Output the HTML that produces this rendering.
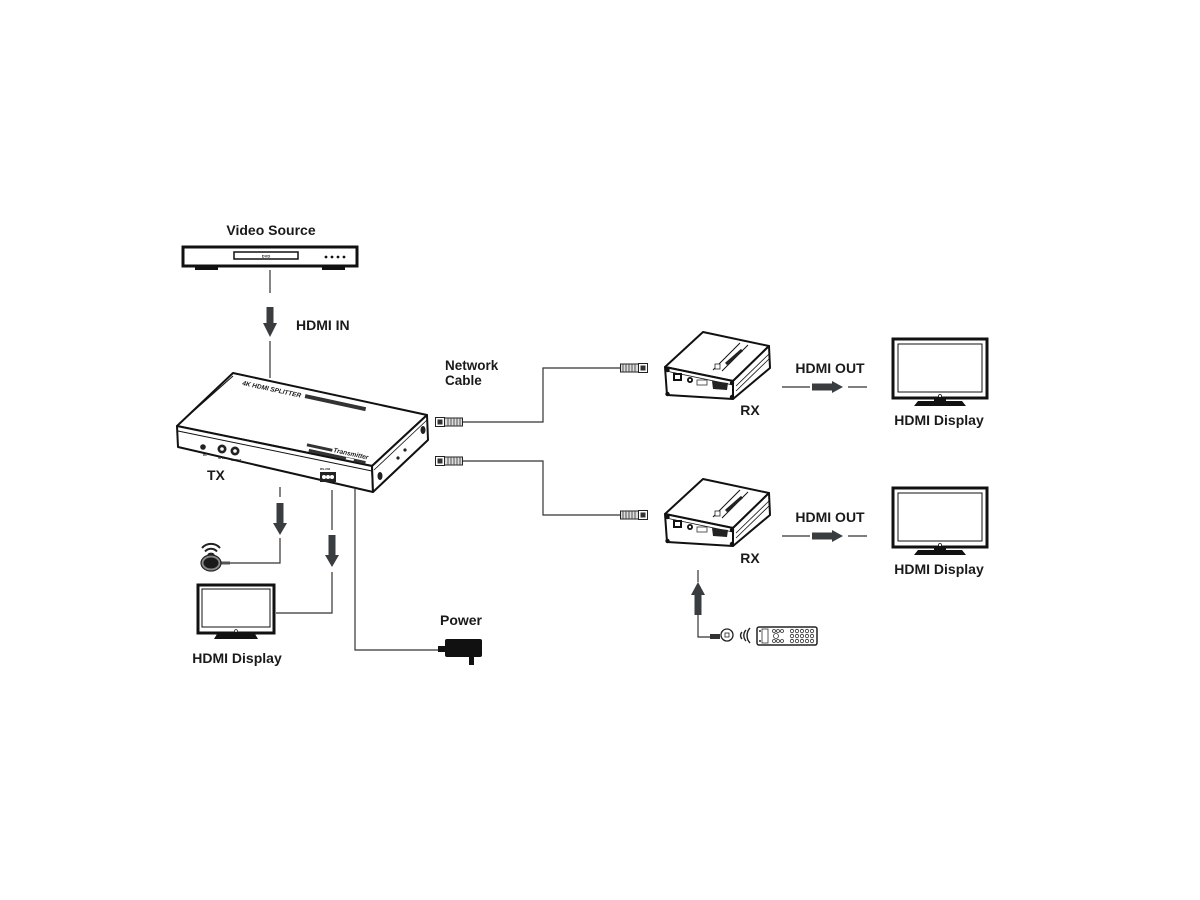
<!DOCTYPE html>
<html><head><meta charset="utf-8"><style>
html,body{margin:0;padding:0;background:#fff;}
svg{display:block;}
text{font-family:"Liberation Sans",sans-serif;font-weight:bold;fill:#1a1a1a;}
</style></head><body>
<svg width="1200" height="900" viewBox="0 0 1200 900" xmlns="http://www.w3.org/2000/svg">
<defs>
  <g id="rjL">
    <rect x="0.5" y="0.5" width="9" height="9" fill="#fff" stroke="#222" stroke-width="1"/>
    <rect x="2.5" y="2.5" width="5" height="5" fill="#333"/>
    <rect x="9.5" y="1" width="18" height="8" fill="#ddd" stroke="#222" stroke-width="1"/>
    <path d="M13 1v8M16 1v8M19 1v8M22 1v8M25 1v8" stroke="#444" stroke-width="0.9"/>
  </g>
  <g id="rjR">
    <rect x="0.5" y="1" width="18" height="8" fill="#ddd" stroke="#222" stroke-width="1"/>
    <path d="M3 1v8M6 1v8M9 1v8M12 1v8M15 1v8" stroke="#444" stroke-width="0.9"/>
    <rect x="18.5" y="0.5" width="9" height="9" fill="#fff" stroke="#222" stroke-width="1"/>
    <rect x="20.5" y="2.5" width="5" height="5" fill="#333"/>
  </g>
  <g id="rx">
    <polygon points="703,332 769,346 733,381 665,367" fill="#fff" stroke="#111" stroke-width="2" stroke-linejoin="round"/>
    <polygon points="665,367 733,381 733,399 667,395" fill="#fff" stroke="#111" stroke-width="2" stroke-linejoin="round"/>
    <polygon points="733,381 769,346 770,368 733,399" fill="#fff" stroke="#111" stroke-width="2" stroke-linejoin="round"/>
    <path d="M736,386 L769,354 M736,391 L769,359" stroke="#111" stroke-width="0.8" fill="none"/>
    <path d="M666,371 L733,385" stroke="#111" stroke-width="0.8"/>
    <path d="M740,343 L713,370 M748,345 L722,371" stroke="#111" stroke-width="1"/>
    <path d="M742,350 L726,364" stroke="#222" stroke-width="3"/>
    <rect x="715" y="364" width="5" height="5" fill="#fff" stroke="#222" stroke-width="0.8"/>
    <circle cx="667.5" cy="370" r="2.2" fill="#111"/>
    <circle cx="667.5" cy="394" r="2.2" fill="#111"/>
    <circle cx="732" cy="383" r="2.2" fill="#111"/>
    <circle cx="732" cy="397" r="2.2" fill="#111"/>
    <rect x="673" y="373" width="9" height="8" fill="#111"/>
    <rect x="675" y="375" width="5" height="4" fill="#fff"/>
    <circle cx="690" cy="380" r="3" fill="#111"/>
    <circle cx="690" cy="380" r="1.2" fill="#fff"/>
    <rect x="697" y="380" width="10" height="5" fill="#fff" stroke="#333" stroke-width="0.8"/>
    <path d="M712,381 L728,383 L727,390 L713,389 Z" fill="#222"/>
  </g>
  <g id="tv">
    <rect x="893" y="339" width="94" height="59" fill="#fff" stroke="#111" stroke-width="3"/>
    <rect x="898" y="344" width="84" height="48" fill="#fff" stroke="#111" stroke-width="1"/>
    <circle cx="940" cy="396" r="1.5" fill="#fff" stroke="#111" stroke-width="0.8"/>
    <rect x="934" y="398" width="12" height="3" fill="#111"/>
    <polygon points="918,401 962,401 966,406 914,406" fill="#111"/>
  </g>
</defs>

<!-- Video source -->
<text x="271" y="235" font-size="14" text-anchor="middle">Video Source</text>
<rect x="183" y="247" width="174" height="19" fill="#fff" stroke="#111" stroke-width="3"/>
<rect x="234" y="252" width="64" height="7" fill="#fff" stroke="#111" stroke-width="1.5"/>
<text x="266" y="257.5" font-size="4" text-anchor="middle">DVD</text>
<circle cx="326" cy="257" r="1.4" fill="#111"/><circle cx="332" cy="257" r="1.4" fill="#111"/>
<circle cx="338" cy="257" r="1.4" fill="#111"/><circle cx="344" cy="257" r="1.4" fill="#111"/>
<rect x="195" y="266" width="23" height="4" fill="#111"/>
<rect x="322" y="266" width="23" height="4" fill="#111"/>

<!-- HDMI IN arrow -->
<path d="M270,270 V293 M270,341 V378" stroke="#333" stroke-width="1.2"/>
<rect x="266.5" y="307" width="7" height="17" fill="#3a3d40"/>
<polygon points="263,323 277,323 270,337" fill="#3a3d40"/>
<text x="296" y="330" font-size="14">HDMI IN</text>

<!-- TX box -->
<polygon points="233,373 427,415 372,466 177,426" fill="#fff" stroke="#111" stroke-width="2" stroke-linejoin="round"/>
<path d="M179,424 L233,376" stroke="#111" stroke-width="1"/>
<polygon points="177,426 372,466 373,492 178,447" fill="#fff" stroke="#111" stroke-width="2" stroke-linejoin="round"/>
<path d="M178,431 L372,471" stroke="#111" stroke-width="1"/>
<polygon points="372,466 427,415 428,440 373,492" fill="#fff" stroke="#111" stroke-width="2" stroke-linejoin="round"/>
<path d="M374,470 L427,420" stroke="#111" stroke-width="0.8"/>
<g transform="translate(242,385) rotate(12.2)">
  <text x="0" y="0" font-size="6.5" font-style="italic">4K HDMI SPLITTER</text>
  <rect x="64" y="-4.5" width="62" height="4" fill="#333"/>
</g>
<g transform="translate(333,452) rotate(12.2)">
  <text x="0" y="0" font-size="6.5" font-style="italic">Transmitter</text>
  <rect x="-27" y="-3" width="26" height="3" fill="#333"/>
  <rect x="-24" y="2" width="58" height="3" fill="#333"/>
  <rect x="14" y="2.5" width="8" height="2" fill="#fff"/>
</g>
<circle cx="203" cy="447" r="2.8" fill="#222"/>
<circle cx="222" cy="449" r="4.5" fill="#222"/><circle cx="222" cy="449" r="1.8" fill="#fff"/>
<circle cx="235" cy="451" r="4.5" fill="#222"/><circle cx="235" cy="451" r="1.8" fill="#fff"/>
<text x="203" y="456" font-size="3">DC</text>
<text x="218" y="459" font-size="3">IR IN</text>
<text x="231" y="461" font-size="3">IR OUT</text>
<rect x="320" y="472" width="16" height="10" fill="#222"/>
<circle cx="324" cy="477" r="2" fill="#fff"/><circle cx="328" cy="477" r="2" fill="#fff"/><circle cx="332" cy="477" r="2" fill="#fff"/>
<text x="320" y="470" font-size="3">RS-232</text>
<circle cx="405" cy="450" r="1.6" fill="#222"/>
<circle cx="398" cy="458" r="1.6" fill="#222"/>
<ellipse cx="423" cy="430" rx="2.5" ry="4" fill="#222"/>
<ellipse cx="380" cy="476" rx="2.5" ry="4" fill="#222"/>
<text x="207" y="480" font-size="14">TX</text>

<!-- Network cables -->
<text x="445" y="370" font-size="13.5">Network</text>
<text x="445" y="385" font-size="13.5">Cable</text>
<use href="#rjL" x="435" y="417"/>
<use href="#rjL" x="435" y="456"/>
<path d="M463,422 H543 V368 H620" fill="none" stroke="#333" stroke-width="1.2"/>
<path d="M463,461 H543 V515 H620" fill="none" stroke="#333" stroke-width="1.2"/>
<use href="#rjR" x="620" y="363"/>
<use href="#rjR" x="620" y="510"/>

<!-- RX top -->
<use href="#rx"/>
<text x="750" y="415" font-size="14" text-anchor="middle">RX</text>
<text x="830" y="373" font-size="14" text-anchor="middle">HDMI OUT</text>
<path d="M782,387 H810 M848,387 H867" stroke="#333" stroke-width="1.2"/>
<rect x="812" y="383.5" width="21" height="7" fill="#3a3d40"/>
<polygon points="832,381 843,387 832,393" fill="#3a3d40"/>
<use href="#tv"/>
<text x="939" y="425" font-size="14" text-anchor="middle">HDMI Display</text>

<!-- RX bottom -->
<use href="#rx" y="147"/>
<text x="750" y="563" font-size="14" text-anchor="middle">RX</text>
<text x="830" y="522" font-size="14" text-anchor="middle">HDMI OUT</text>
<path d="M782,536 H810 M848,536 H867" stroke="#333" stroke-width="1.2"/>
<rect x="812" y="532.5" width="21" height="7" fill="#3a3d40"/>
<polygon points="832,530 843,536 832,542" fill="#3a3d40"/>
<use href="#tv" y="149"/>
<text x="939" y="574" font-size="14" text-anchor="middle">HDMI Display</text>

<!-- IR receiver -->
<path d="M698,570 V582 M698,615 V637 H713" fill="none" stroke="#333" stroke-width="1.2"/>
<polygon points="691,595 705,595 698,582" fill="#3a3d40"/>
<rect x="694.5" y="594" width="7" height="21" fill="#3a3d40"/>
<rect x="710" y="634" width="10" height="5" fill="#333"/>
<circle cx="727" cy="635" r="6" fill="#fff" stroke="#222" stroke-width="1.3"/>
<rect x="725" y="633" width="4" height="4" fill="none" stroke="#222" stroke-width="0.8"/>
<path d="M746,630 A8,8 0 0 0 746,641 M750,628 A11,11 0 0 0 750,643 M742,632 A5,5 0 0 0 742,639" fill="none" stroke="#222" stroke-width="1.4"/>
<rect x="757" y="627" width="60" height="18" rx="2" fill="#fff" stroke="#222" stroke-width="1.5"/>
<rect x="762" y="629" width="6" height="14" fill="none" stroke="#333" stroke-width="0.8"/>
<circle cx="760" cy="631" r="1" fill="#333"/><circle cx="760" cy="641" r="1" fill="#333"/>
<g fill="none" stroke="#333" stroke-width="0.8">
<circle cx="774" cy="631" r="1.5"/><circle cx="778" cy="631" r="1.5"/><circle cx="782" cy="631" r="1.5"/>
<circle cx="776" cy="636" r="2.5"/>
<circle cx="774" cy="641" r="1.5"/><circle cx="778" cy="641" r="1.5"/><circle cx="782" cy="641" r="1.5"/>
<circle cx="792" cy="631" r="1.7"/><circle cx="797" cy="631" r="1.7"/><circle cx="802" cy="631" r="1.7"/><circle cx="807" cy="631" r="1.7"/><circle cx="812" cy="631" r="1.7"/>
<circle cx="792" cy="636" r="1.7"/><circle cx="797" cy="636" r="1.7"/><circle cx="802" cy="636" r="1.7"/><circle cx="807" cy="636" r="1.7"/><circle cx="812" cy="636" r="1.7"/>
<circle cx="792" cy="641" r="1.7"/><circle cx="797" cy="641" r="1.7"/><circle cx="802" cy="641" r="1.7"/><circle cx="807" cy="641" r="1.7"/><circle cx="812" cy="641" r="1.7"/>
</g>

<!-- Bottom-left branch -->
<path d="M280,487 V497 M280,538 V563 H228" fill="none" stroke="#333" stroke-width="1.2"/>
<rect x="276.5" y="503" width="7" height="21" fill="#3a3d40"/>
<polygon points="273,523 287,523 280,535" fill="#3a3d40"/>
<path d="M332,490 V530 M332,572 V613 H276" fill="none" stroke="#333" stroke-width="1.2"/>
<rect x="328.5" y="535" width="7" height="21" fill="#3a3d40"/>
<polygon points="325,555 339,555 332,567" fill="#3a3d40"/>
<path d="M355,488 V650 H440" fill="none" stroke="#333" stroke-width="1.2"/>

<!-- wireless dongle -->
<rect x="218" y="561.5" width="12" height="3" fill="#555"/>
<ellipse cx="211" cy="563" rx="10" ry="8" fill="#888" stroke="#222" stroke-width="1.2"/>
<ellipse cx="211" cy="563" rx="7.5" ry="5.5" fill="#1a1a1a"/>
<path d="M208,555 A4,4 0 0 1 214,555 M205,551.5 A8,8 0 0 1 217,551.5 M202,548 A12,12 0 0 1 220,548" fill="none" stroke="#222" stroke-width="2"/>

<!-- left TV -->
<rect x="198" y="585" width="76" height="48" fill="#fff" stroke="#111" stroke-width="3"/>
<rect x="202" y="589" width="68" height="38" fill="#fff" stroke="#111" stroke-width="1"/>
<circle cx="236" cy="631" r="1.4" fill="#fff" stroke="#111" stroke-width="0.7"/>
<polygon points="217,634 255,634 258,639 214,639" fill="#111"/>
<text x="237" y="663" font-size="14" text-anchor="middle">HDMI Display</text>

<!-- Power -->
<text x="461" y="625" font-size="14" text-anchor="middle">Power</text>
<rect x="438" y="646" width="9" height="6" fill="#111"/>
<rect x="445" y="639" width="37" height="18" rx="2" fill="#111"/>
<rect x="469" y="656" width="5" height="9" fill="#111"/>
</svg>
</body></html>
